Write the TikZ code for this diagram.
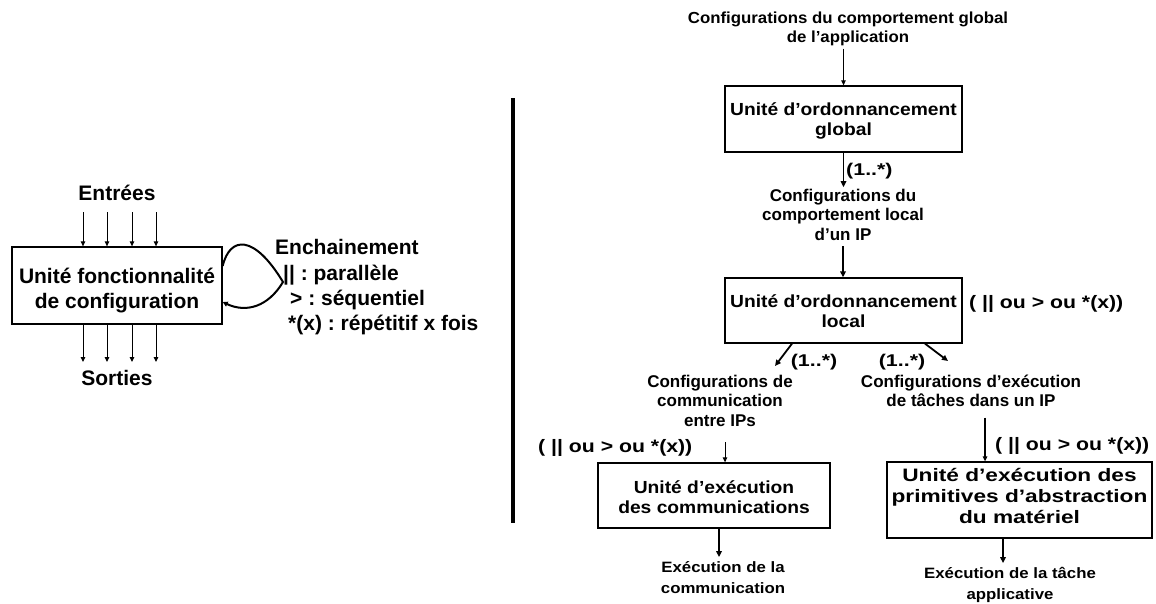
\documentclass[tikz,border=0pt]{standalone}
\usepackage{fontspec}
\setmainfont{Liberation Sans}
% widened faces for the right-hand diagram
\newfontfamily\fwA[FakeStretch=1.05]{Liberation Sans}
\newfontfamily\fwB[FakeStretch=1.10]{Liberation Sans}
\newfontfamily\fwC[FakeStretch=1.12]{Liberation Sans}
\newfontfamily\fwD[FakeStretch=1.18]{Liberation Sans}
\newfontfamily\fwE[FakeStretch=1.26]{Liberation Sans}
\usetikzlibrary{arrows.meta}
\frenchspacing
% centred lines, baseline on the first line
\newcommand\stack[1]{\begin{tabular}[t]{@{}c@{}}#1\end{tabular}}

\tikzset{
  box/.style={draw, line width=1.3pt, inner sep=0pt, align=center},
  lab/.style={inner sep=0pt, anchor=base},
  arr/.style={-{Triangle[length=5pt,width=4.5pt]}, line width=1pt},
  arrT/.style={-{Triangle[length=6pt,width=5.5pt]}, line width=1.8pt},
  fL/.style={font=\fontsize{21}{25}\selectfont\bfseries},
  fTop/.style={font=\fwA\fontsize{16}{19.5}\selectfont\bfseries},
  fBox/.style={font=\fwB\fontsize{17.5}{20.5}\selectfont\bfseries},
  fLab/.style={font=\fontsize{17}{19.5}\selectfont\bfseries},
  fPar/.style={font=\fwD\fontsize{18}{22}\selectfont\bfseries},
  fMul/.style={font=\fwE\fontsize{17}{20}\selectfont\bfseries},
  fBoxE/.style={font=\fwE\fontsize{18}{21}\selectfont\bfseries},
  fOut/.style={font=\fwC\fontsize{15}{21}\selectfont\bfseries},
}

\begin{document}
\begin{tikzpicture}[x=1pt, y=-1pt]
\useasboundingbox (0,0) rectangle (1156,603);

% ---------------- generic configuration unit ----------------
\node[lab, fL] (entrees) at (117,200) {Entrées};
\node[box, fL, minimum width=210pt, minimum height=77pt,
      text height=25pt, text depth=30pt] (fonc) at (117,285.5)
      {\stack{Unité fonctionnalité\\de configuration}};
\node[lab, fL] (sorties) at (117,385) {Sorties};

\foreach \i/\x in {1/83, 2/107, 3/132, 4/156} {
  \coordinate (in\i) at (\x,212);
  \coordinate (out\i) at (\x,362);
  \draw[arr] (in\i) -- (in\i |- fonc.north);
  \draw[arr] (out\i |- fonc.south) -- (out\i);
}

% chaining loop
\draw[line width=2pt, -{Triangle[length=5pt,width=5pt]}]
  ([yshift=19.5pt]fonc.east) .. controls (230,236) and (254,234) .. (283,282)
  .. controls (268,307) and (246,313) .. ([yshift=-16.5pt]fonc.east);

\node[lab, fL, anchor=base west] (ench) at (275,254) {Enchainement};
\node[lab, fL, anchor=base west] (par)  at (283,280) {|| : parallèle};
\node[lab, fL, anchor=base west] (seq)  at (290,305) {> : séquentiel};
\node[lab, fL, anchor=base west] (rep)  at (288,330) {*(x) : répétitif x fois};

% separator
\coordinate (sepTop) at (513,98);
\coordinate (sepBot) at (513,523);
\draw[line width=4pt] (sepTop) -- (sepBot);

% ---------------- scheduling hierarchy ----------------
\node[lab, fTop] (cfgG) at (848,23)
  {\stack{Configurations du comportement global\\de l’application}};

\node[box, fBox, minimum width=237pt, minimum height=66pt,
      text height=22pt, text depth=30pt] (ordG) at (843.5,119)
      {\stack{Unité d’ordonnancement\\global}};
\draw[arr] (cfgG.south -| ordG.north) -- (ordG.north);

\node[lab, fLab] (cfgL) at (843,201)
  {\stack{Configurations du\\comportement local\\d’un IP}};
\draw[arrT] (ordG.south) -- (ordG.south |- cfgL.north);
\node[lab, fMul, anchor=base west] (m1) at (846,175) {(1..*)};

\node[box, fBox, minimum width=237pt, minimum height=65pt,
      text height=23pt, text depth=30pt] (ordL) at (843.5,310.5)
      {\stack{Unité d’ordonnancement\\local}};
\draw[arrT] (cfgL.south) -- (cfgL.south |- ordL.north);
\node[lab, fPar, anchor=base west] (parL) at (969,308) {( || ou > ou *(x))};

\coordinate (dl) at (775,366);
\coordinate (dr) at (948,361);
\draw[arrT] ([xshift=-51.5pt]ordL.south) -- (dl);
\draw[arrT] ([xshift=81.5pt]ordL.south) -- (dr);
\node[lab, fMul] (m2) at (814,366) {(1..*)};
\node[lab, fMul] (m3) at (902,366) {(1..*)};

\node[lab, fLab] (cfgC) at (720,387)
  {\stack{Configurations de\\communication\\entre IPs}};
\node[lab, fLab] (cfgE) at (971,387)
  {\stack{Configurations d’exécution\\de tâches dans un IP}};

% communication execution
\node[lab, fPar, anchor=base west] (parC) at (538,452) {( || ou > ou *(x))};
\node[box, fBox, minimum width=232pt, minimum height=65pt,
      text height=25pt, text depth=30pt] (exeC) at (714,495.5)
      {\stack{Unité d’exécution\\des communications}};
\draw[arr] ([xshift=5pt, yshift=-10pt]cfgC.south) -- ([xshift=11pt]exeC.north);

\node[lab, fOut] (outC) at (723,572)
  {\stack{Exécution de la\\communication}};
\draw[arrT] ([xshift=5pt]exeC.south) -- ([xshift=5pt]exeC.south |- outC.north);

% task execution
\node[lab, fPar, anchor=base west] (parE) at (995,450) {( || ou > ou *(x))};
\node[box, fBoxE, minimum width=265pt, minimum height=76pt,
      text height=10pt, text depth=48pt] (exeE) at (1019.5,500)
      {\stack{Unité d’exécution des\\primitives d’abstraction\\du matériel}};
\draw[arr, line width=1.3pt] ([xshift=14pt, yshift=-5pt]cfgE.south) -- ([xshift=-34.5pt]exeE.north);

\node[lab, fOut] (outE) at (1010,578)
  {\stack{Exécution de la tâche\\applicative}};
\draw[arrT] ([xshift=-16.5pt]exeE.south) -- ([xshift=-16.5pt]exeE.south |- outE.north);
\end{tikzpicture}
\end{document}
